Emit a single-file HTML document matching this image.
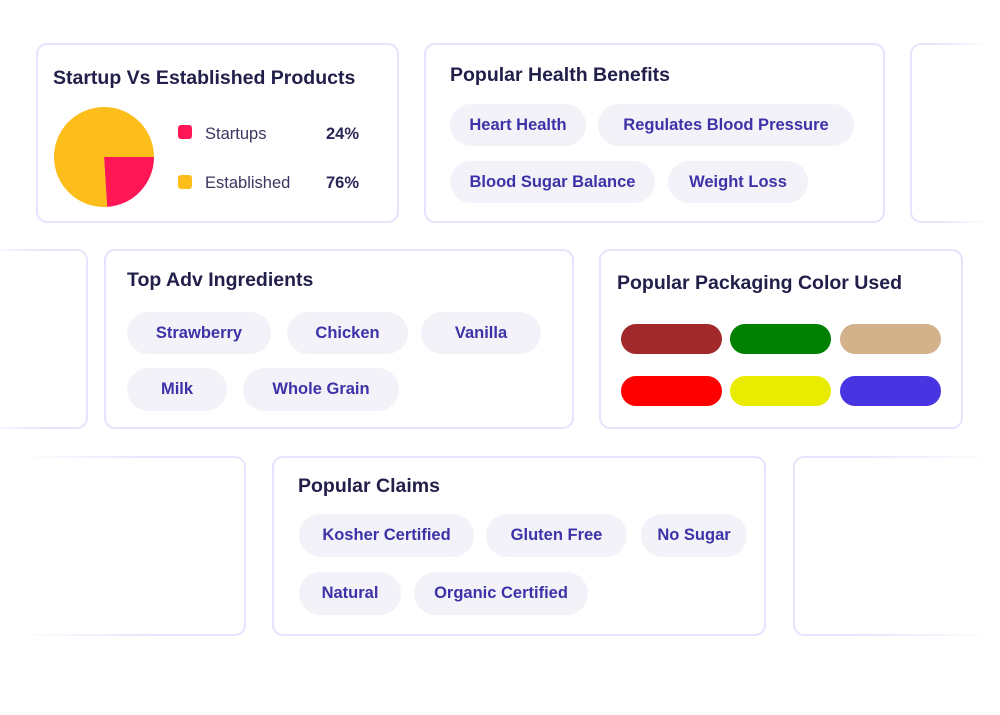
<!DOCTYPE html>
<html><head><meta charset="utf-8"><style>
html,body{margin:0;padding:0;background:#fff;}
body{width:1000px;height:715px;position:relative;overflow:hidden;font-family:"Liberation Sans",sans-serif;}
.card{position:absolute;box-sizing:border-box;border:2px solid #e6e3fc;border-radius:11px;background:#fff;}
.fr{-webkit-mask-image:linear-gradient(to right,#000 0,#000 30%,transparent 100%);mask-image:linear-gradient(to right,#000 0,#000 30%,transparent 100%);}
.fl{-webkit-mask-image:linear-gradient(to left,#000 0,#000 40%,transparent 100%);mask-image:linear-gradient(to left,#000 0,#000 40%,transparent 100%);}
.title{position:absolute;font-size:19.5px;font-weight:bold;color:#22204a;white-space:nowrap;line-height:1;}
.chip{position:absolute;box-sizing:border-box;background:#f2f2f8;border-radius:22px;color:#3d32a8;font-size:16.5px;font-weight:bold;text-align:center;white-space:nowrap;}
.pill{position:absolute;width:101px;height:30px;border-radius:15px;}
.leg{position:absolute;font-size:16.5px;color:#3a3760;white-space:nowrap;line-height:1;}
.pct{position:absolute;font-size:16.5px;font-weight:bold;color:#2a2757;line-height:1;}
.sq{position:absolute;width:14px;height:14px;border-radius:3px;}
</style></head><body>

<div class="card" style="left:36px;top:43px;width:363px;height:180px;"></div>
<div class="title" style="left:53px;top:69px;">Startup Vs Established Products</div>
<svg id="pie" style="position:absolute;left:50px;top:103px;" width="110" height="110"></svg>
<div class="sq" style="left:178px;top:125px;background:#ff1654;"></div>
<div class="leg" style="left:205px;top:126px;">Startups</div>
<div class="pct" style="left:326px;top:126px;">24%</div>
<div class="sq" style="left:178px;top:175px;background:#fdbd1a;"></div>
<div class="leg" style="left:205px;top:175px;">Established</div>
<div class="pct" style="left:326px;top:175px;">76%</div>

<div class="card" style="left:424px;top:43px;width:461px;height:180px;"></div>
<div class="title" style="left:450px;top:66px;">Popular Health Benefits</div>
<div class="chip" style="left:450px;top:104px;width:136px;height:42px;line-height:42px;">Heart Health</div>
<div class="chip" style="left:598px;top:104px;width:256px;height:42px;line-height:42px;">Regulates Blood Pressure</div>
<div class="chip" style="left:450px;top:161px;width:205px;height:42px;line-height:42px;">Blood Sugar Balance</div>
<div class="chip" style="left:668px;top:161px;width:140px;height:42px;line-height:42px;">Weight Loss</div>

<div class="card fr" style="left:910px;top:43px;width:80px;height:180px;"></div>
<div class="card fl" style="left:-20px;top:249px;width:108px;height:180px;"></div>

<div class="card" style="left:104px;top:249px;width:470px;height:180px;"></div>
<div class="title" style="left:127px;top:271px;">Top Adv Ingredients</div>
<div class="chip" style="left:127px;top:312px;width:144px;height:42px;line-height:42px;">Strawberry</div>
<div class="chip" style="left:287px;top:312px;width:121px;height:42px;line-height:42px;">Chicken</div>
<div class="chip" style="left:421px;top:312px;width:120px;height:42px;line-height:42px;">Vanilla</div>
<div class="chip" style="left:127px;top:368px;width:100px;height:43px;line-height:43px;">Milk</div>
<div class="chip" style="left:243px;top:368px;width:156px;height:43px;line-height:43px;">Whole Grain</div>

<div class="card" style="left:599px;top:249px;width:364px;height:180px;"></div>
<div class="title" style="left:617px;top:274px;">Popular Packaging Color Used</div>
<div class="pill" style="left:621px;top:324px;background:#a2292b;"></div>
<div class="pill" style="left:730px;top:324px;background:#008000;"></div>
<div class="pill" style="left:840px;top:324px;background:#d3b28b;"></div>
<div class="pill" style="left:621px;top:376px;background:#ff0000;"></div>
<div class="pill" style="left:730px;top:376px;background:#e9eb00;"></div>
<div class="pill" style="left:840px;top:376px;background:#4834e0;"></div>

<div class="card fl" style="left:20px;top:456px;width:226px;height:180px;"></div>

<div class="card" style="left:272px;top:456px;width:494px;height:180px;"></div>
<div class="title" style="left:298px;top:477px;">Popular Claims</div>
<div class="chip" style="left:299px;top:514px;width:175px;height:43px;line-height:43px;">Kosher Certified</div>
<div class="chip" style="left:486px;top:514px;width:141px;height:43px;line-height:43px;">Gluten Free</div>
<div class="chip" style="left:641px;top:514px;width:106px;height:43px;line-height:43px;">No Sugar</div>
<div class="chip" style="left:299px;top:572px;width:102px;height:43px;line-height:43px;">Natural</div>
<div class="chip" style="left:414px;top:572px;width:174px;height:43px;line-height:43px;">Organic Certified</div>

<div class="card fr" style="left:793px;top:456px;width:200px;height:180px;"></div>

<script>
const categories = ["Startups", "Established"];
const values = [24, 76];
const colors = ["#ff1654", "#fdbd1a"];
const svg = document.getElementById('pie');
const cx = 54, cy = 54, r = 50;
const total = values.reduce((a, b) => a + b, 0);
let start = Math.PI / 2 * 0; // begin at 3 o'clock, clockwise
for (let i = 0; i < values.length; i++) {
  const ang = values[i] / total * 2 * Math.PI;
  const end = start + ang;
  const x1 = cx + r * Math.cos(start), y1 = cy + r * Math.sin(start);
  const x2 = cx + r * Math.cos(end), y2 = cy + r * Math.sin(end);
  const large = ang > Math.PI ? 1 : 0;
  const p = document.createElementNS('http://www.w3.org/2000/svg', 'path');
  p.setAttribute('d', `M${cx},${cy} L${x1},${y1} A${r},${r} 0 ${large} 1 ${x2},${y2} Z`);
  p.setAttribute('fill', colors[i]);
  
  
  svg.appendChild(p);
  start = end;
}
</script>
</body></html>
